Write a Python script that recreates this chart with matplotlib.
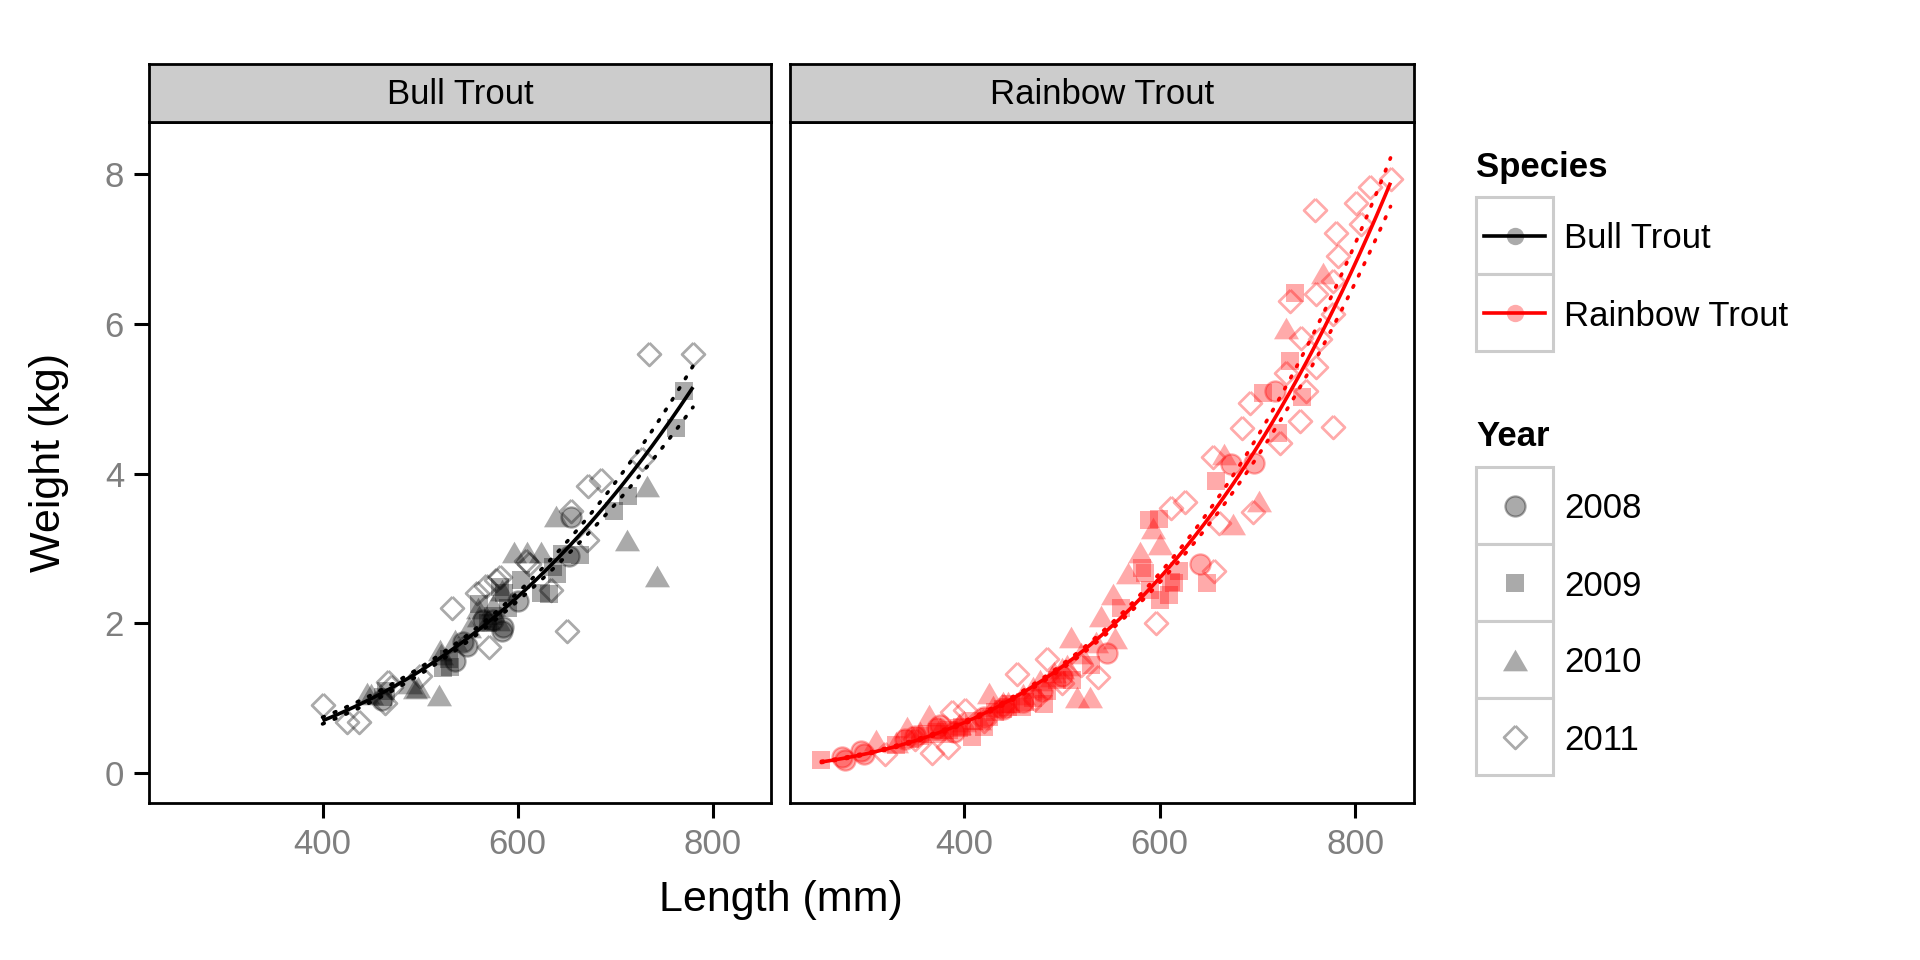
import numpy as np
import matplotlib
matplotlib.use("Agg")
import matplotlib.pyplot as plt
from matplotlib.patches import Rectangle

plt.rcParams['font.family'] = ['Liberation Sans', 'DejaVu Sans']

# ---------------- data ----------------
species = ["Bull Trout", "Rainbow Trout"]
years = ["2008", "2009", "2010", "2011"]
x_ticks = [400, 600, 800]
y_ticks = [0, 2, 4, 6, 8]

# Bull Trout
bull_2008_len = [461, 536, 544, 548, 565, 575, 584, 585, 600, 653, 655]
bull_2008_wt = [0.97, 1.50, 1.75, 1.70, 2.05, 2.05, 1.90, 1.95, 2.30, 2.90, 3.42]
bull_2009_len = [462, 465, 524, 530, 531, 561, 570, 575, 582, 586, 590, 604, 624, 632,
                 636, 641, 646, 664, 699, 713, 763, 771]
bull_2009_wt = [1.01, 1.10, 1.41, 1.52, 1.42, 2.26, 2.00, 2.10, 2.49, 2.40, 2.20, 2.58, 2.40, 2.39,
                2.75, 2.66, 2.93, 2.92, 3.50, 3.70, 4.61, 5.11]
bull_2010_len = [446, 450, 490, 495, 498, 519, 520, 521, 536, 550, 559, 560, 570, 575, 580,
                 584, 596, 610, 624, 639, 712, 733, 743]
bull_2010_wt = [1.07, 1.06, 1.21, 1.14, 1.15, 1.04, 1.64, 1.59, 1.78, 1.95, 2.21, 2.10, 2.06, 2.25, 2.05,
                2.44, 2.95, 2.95, 2.95, 3.44, 3.12, 3.84, 2.64]
bull_2011_len = [400, 425, 437, 464, 467, 470, 500, 533, 558, 568, 571, 578, 582, 609, 612,
                 634, 651, 655, 671, 672, 686, 728, 735, 780]
bull_2011_wt = [0.91, 0.68, 0.68, 0.93, 1.22, 1.15, 1.30, 2.20, 2.40, 2.50, 1.68, 2.58, 2.62, 2.84, 2.80,
                2.45, 1.90, 3.50, 3.11, 3.84, 3.92, 4.20, 5.60, 5.60]

# Rainbow Trout
rain_2008_len = [275, 278, 295, 298, 340, 350, 372, 375, 390, 420, 440, 460, 480, 500, 546,
                 641, 673, 696, 718]
rain_2008_wt = [0.21, 0.17, 0.30, 0.25, 0.45, 0.50, 0.60, 0.64, 0.55, 0.75, 0.85, 0.95, 1.10, 1.30, 1.61,
                2.80, 4.13, 4.14, 5.11]
rain_2009_len = [254, 330, 345, 355, 362, 372, 380, 385, 395, 398, 408, 410, 420, 425, 432,
                 440, 445, 448, 459, 462, 470, 482, 485, 495, 510, 530, 560, 582, 585, 589,
                 590, 599, 600, 609, 612, 615, 620, 648, 658, 706, 721, 733, 738, 745]
rain_2009_wt = [0.17, 0.38, 0.45, 0.50, 0.52, 0.55, 0.52, 0.58, 0.60, 0.62, 0.48, 0.70, 0.62, 0.75, 0.82,
                0.85, 0.88, 0.92, 0.88, 0.95, 1.00, 0.92, 1.10, 1.25, 1.25, 1.45, 2.20, 2.74, 2.67, 3.38,
                2.45, 3.40, 2.31, 2.38, 2.55, 2.54, 2.70, 2.54, 3.90, 5.08, 4.54, 5.51, 6.42, 5.03]
rain_2010_len = [310, 330, 342, 355, 364, 375, 395, 400, 415, 425, 430, 440, 445, 460, 470,
                 478, 490, 492, 500, 505, 509, 515, 520, 529, 535, 540, 552, 554, 568, 580,
                 593, 600, 666, 675, 702, 729, 767]
rain_2010_wt = [0.44, 0.42, 0.62, 0.55, 0.77, 0.60, 0.65, 0.70, 0.72, 1.07, 0.90, 0.95, 0.95, 1.05, 1.15,
                1.25, 1.30, 1.35, 1.40, 1.45, 1.82, 1.02, 1.60, 1.02, 1.75, 2.10, 2.39, 1.81, 2.68, 2.95,
                3.28, 3.06, 4.27, 3.33, 3.63, 5.95, 6.68]
rain_2011_len = [319, 350, 367, 384, 388, 401, 420, 440, 454, 472, 485, 500, 520, 537, 596,
                 612, 626, 656, 654, 661, 684, 692, 695, 723, 729, 733, 743, 744, 750, 760,
                 759, 760, 764, 777, 777, 777, 780, 782, 801, 806, 815, 836]
rain_2011_wt = [0.25, 0.45, 0.27, 0.35, 0.82, 0.84, 0.70, 0.90, 1.32, 0.99, 1.53, 1.20, 1.45, 1.29, 2.00,
                3.54, 3.62, 2.70, 4.22, 3.34, 4.61, 4.94, 3.49, 4.41, 5.34, 6.31, 4.71, 5.82, 5.11, 5.42,
                7.52, 6.40, 5.80, 4.62, 6.58, 6.14, 7.22, 6.91, 7.62, 7.34, 7.83, 7.94]

# ---------------- layout helpers ----------------
FW, FH = 1920, 960
fig = plt.figure(figsize=(FW / 100, FH / 100), dpi=100)
fig.patch.set_facecolor('white')


def rect_axes(x0, y0, x1, y1, **kw):
    return fig.add_axes([x0 / FW, 1 - y1 / FH, (x1 - x0) / FW, (y1 - y0) / FH], **kw)


panel_x = [(149, 771), (790, 1414)]
strip_top, panel_top, panel_bot = 64, 122, 803
xlim = (222, 860)
ylim = (-0.40, 8.70)

species_colors = {"Bull Trout": "#000000", "Rainbow Trout": "#FF0000"}
ALPHA = 1 / 3
TRI = [(-1, -0.866), (1, -0.866), (0, 0.866), (-1, -0.866)]
DIA = [(0, 1), (1, 0), (0, -1), (-1, 0), (0, 1)]
year_style = {
    "2008": dict(marker='o', ms=14.5, filled=True, mew=1.6),
    "2009": dict(marker='s', ms=13.0, filled=True, mew=0),
    "2010": dict(marker=TRI, ms=18.0, filled=True, mew=0),
    "2011": dict(marker=DIA, ms=16.5, filled=False, mew=2.0),
}
BAND_MULT = 1.35
LINE_W = 2.6


def rgba(c, a):
    r, g, b, _ = matplotlib.colors.to_rgba(c)
    return (r, g, b, a)


def draw_points(ax, x, y, year, color):
    st = year_style[year]
    col = rgba(color, ALPHA)
    kw = dict(linestyle='none', marker=st['marker'], markersize=st['ms'])
    if st['filled']:
        kw.update(markerfacecolor=col, markeredgecolor=col if st['mew'] > 0 else 'none',
                  markeredgewidth=st['mew'])
    else:
        kw.update(markerfacecolor='none', markeredgecolor=col, markeredgewidth=st['mew'])
    ax.plot(x, y, zorder=2, **kw)


def loglog_fit(L, W, n=200, mult=BAND_MULT):
    lx = np.log(np.asarray(L, float))
    ly = np.log(np.asarray(W, float))
    b, a = np.polyfit(lx, ly, 1)
    res = ly - (a + b * lx)
    s = np.sqrt(np.sum(res ** 2) / (len(lx) - 2))
    grid = np.linspace(np.min(L), np.max(L), n)
    g = np.log(grid)
    se = s * np.sqrt(1 / len(lx) + (g - lx.mean()) ** 2 / np.sum((lx - lx.mean()) ** 2))
    pred = a + b * g
    return grid, np.exp(pred), np.exp(pred - mult * se), np.exp(pred + mult * se)


data = {
    "Bull Trout": {
        "2008": (bull_2008_len, bull_2008_wt), "2009": (bull_2009_len, bull_2009_wt),
        "2010": (bull_2010_len, bull_2010_wt), "2011": (bull_2011_len, bull_2011_wt)},
    "Rainbow Trout": {
        "2008": (rain_2008_len, rain_2008_wt), "2009": (rain_2009_len, rain_2009_wt),
        "2010": (rain_2010_len, rain_2010_wt), "2011": (rain_2011_len, rain_2011_wt)},
}

TEXT_PT = 25
TITLE_PT = 31

for i, sp in enumerate(species):
    x0, x1 = panel_x[i]
    ax = rect_axes(x0, panel_top, x1, panel_bot)
    ax.set_xlim(*xlim)
    ax.set_ylim(*ylim)
    color = species_colors[sp]
    allL, allW = [], []
    for yr in years:
        L, Wt = data[sp][yr]
        draw_points(ax, L, Wt, yr, color)
        allL += list(L)
        allW += list(Wt)
    grid, fit, lo, hi = loglog_fit(allL, allW)
    ax.plot(grid, fit, color=color, lw=LINE_W, zorder=4, solid_capstyle='butt')
    for band in (lo, hi):
        ax.plot(grid, band, color=color, lw=LINE_W, zorder=4,
                linestyle=(0, (0.5, 3.0)), dash_capstyle='round')
    ax.set_xticks(x_ticks)
    ax.set_yticks(y_ticks)
    ax.tick_params(direction='out', length=11, width=2.2, color='black',
                   labelcolor='#7F7F7F', labelsize=TEXT_PT, pad=7)
    if i > 0:
        ax.tick_params(axis='y', left=False, labelleft=False)
    for sp_ in ax.spines.values():
        sp_.set_linewidth(2)
        sp_.set_color('black')
    # strip
    sax = rect_axes(x0, strip_top, x1, panel_top)
    sax.set_facecolor('#CCCCCC')
    sax.set_xticks([])
    sax.set_yticks([])
    for sp_ in sax.spines.values():
        sp_.set_linewidth(2)
        sp_.set_color('black')
    sax.text(0.5, 0.48, sp, ha='center', va='center', fontsize=TEXT_PT,
             transform=sax.transAxes, color='black')

# axis titles
fig.text(781 / FW, 1 - 900 / FH, "Length (mm)", ha='center', va='center', fontsize=TITLE_PT)
fig.text(49 / FW, 1 - 462 / FH, "Weight (kg)", ha='center', va='center', fontsize=TITLE_PT,
         rotation=90)

# ---------------- legends (drawn in pixel coords) ----------------
lg = fig.add_axes([0, 0, 1, 1], facecolor='none')
lg.set_xlim(0, FW)
lg.set_ylim(FH, 0)
lg.axis('off')

KX, KW_, KH = 1476, 77, 77
LABX = 1564

lg.text(KX, 167, "Species", fontsize=TEXT_PT, fontweight='bold', ha='left', va='center')
for j, sp in enumerate(species):
    top = 197 + j * KH
    lg.add_patch(Rectangle((KX, top), KW_, KH, facecolor='white', edgecolor='#CCCCCC', lw=2.2))
    cy = top + KH / 2
    lg.plot([KX + 8, KX + KW_ - 8], [cy, cy], color=species_colors[sp], lw=LINE_W)
    c = rgba(species_colors[sp], ALPHA)
    lg.plot([KX + KW_ / 2], [cy], marker='o', ms=12.5, linestyle='none',
            markerfacecolor=c, markeredgecolor=c, markeredgewidth=0)
    lg.text(LABX, cy, sp, fontsize=TEXT_PT, ha='left', va='center_baseline')

lg.text(KX, 436, "Year", fontsize=TEXT_PT, fontweight='bold', ha='left', va='center')
for j, yr in enumerate(years):
    top = 467 + j * KH
    lg.add_patch(Rectangle((KX, top), KW_, KH, facecolor='white', edgecolor='#CCCCCC', lw=2.2))
    cy = top + KH / 2
    draw_points(lg, [KX + KW_ / 2], [cy], yr, '#000000')
    lg.text(LABX, cy, yr, fontsize=TEXT_PT, ha='left', va='center_baseline')

fig.savefig("out.png", dpi=100, facecolor='white')
